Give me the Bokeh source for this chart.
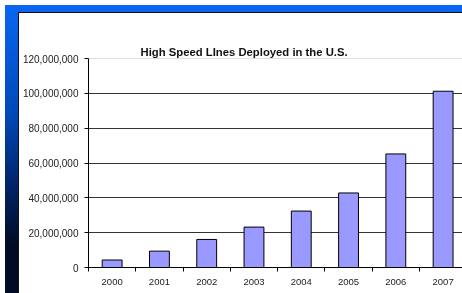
from bokeh.plotting import figure
from bokeh.models import Range1d, FixedTicker, NumeralTickFormatter, Div, Span, Title
from bokeh.layouts import column
from bokeh.embed import file_html
from bokeh.resources import INLINE

years = ["2000", "2001", "2002", "2003", "2004", "2005", "2006", "2007"]
lines = [4.3e6, 9.4e6, 16.1e6, 23.2e6, 32.4e6, 42.8e6, 65.2e6, 101.2e6]
y_ticks = [0, 20e6, 40e6, 60e6, 80e6, 100e6, 120e6]
title_text = "High Speed LInes Deployed in the U.S."

centers = [i + 0.5 for i in range(len(years))]
bounds = list(range(len(years) + 1))

FONT = "Liberation Sans"

p = figure(width=462, height=293, output_backend="svg", toolbar_location=None,
           x_range=Range1d(0, 7.91), y_range=Range1d(0, 120e6),
           min_border_left=88, min_border_right=0, min_border_top=58,
           min_border_bottom=26, title=title_text)
p.border_fill_alpha = 0
p.background_fill_color = "white"
p.outline_line_color = None

p.title.text_font = FONT
p.title.text_font_size = "11.3px"
p.title.text_font_style = "bold"
p.title.align = "left"
p.title.vertical_align = "middle"
p.title.offset = 52
p.title.standoff = 0
p.title.text_color = "#111111"

# invisible spacer between the frame and the title, to lift the title
p.add_layout(Title(text=" ", text_font_size="2px", standoff=24,
                   text_color="white", text_alpha=0), "above")

p.vbar(x=centers, top=lines, bottom=0, width=0.42,
       fill_color="#9999FF", line_color="black", line_width=1)

p.xgrid.grid_line_color = None
p.ygrid.grid_line_color = "#333333"
p.ygrid.ticker = FixedTicker(ticks=y_ticks[:-1])
p.add_layout(Span(location=y_ticks[-1], dimension="width",
                  line_color="#c0c0c0", line_width=1))

ya = p.yaxis[0]
ya.ticker = FixedTicker(ticks=y_ticks)
ya.formatter = NumeralTickFormatter(format="0,0")
ya.axis_line_color = "black"
ya.major_tick_out = 4
ya.major_tick_in = 0
ya.minor_tick_line_color = None
ya.major_label_standoff = 6
ya.major_label_text_font = FONT
ya.major_label_text_font_size = "10px"
ya.major_label_text_color = "#222222"

xa = p.xaxis[0]
xa.ticker = FixedTicker(ticks=centers, minor_ticks=bounds)
xa.major_label_overrides = {c: y for c, y in zip(centers, years)}
xa.axis_line_color = "black"
xa.major_tick_line_color = None
xa.major_tick_out = 0
xa.major_tick_in = 0
xa.minor_tick_line_color = "black"
xa.minor_tick_out = 4
xa.minor_tick_in = 0
xa.major_label_standoff = 7
xa.major_label_text_font = FONT
xa.major_label_text_font_size = "9.5px"
xa.major_label_text_color = "#222222"

bg = Div(width=10, height=10, styles={
    "position": "fixed", "left": "0px", "top": "0px",
    "width": "520px", "height": "360px", "z-index": "-1",
    "background": ("linear-gradient(#ffffff,#ffffff) 14px 8px/520px 360px no-repeat, "
                   "linear-gradient(#111111,#111111) 13px 7px/520px 360px no-repeat, "
                   "linear-gradient(to bottom, #0a66f2 0%, #0049b8 37%, #002466 62%, #000c24 82%)"),
})

layout = column(bg, p, spacing=0)
open("out.html", "w").write(file_html(layout, INLINE))
